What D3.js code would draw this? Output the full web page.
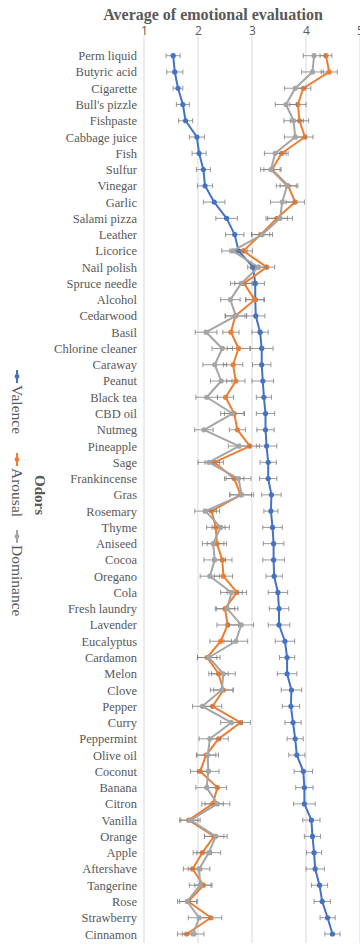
<!DOCTYPE html>
<html>
<head>
<meta charset="utf-8">
<script src="https://cdn.jsdelivr.net/npm/d3@7"></script>
<style>
  html, body { margin: 0; padding: 0; background: #fff; }
  svg { display: block; }
  .serif { font-family: "Liberation Serif", "Times New Roman", Times, serif; }
</style>
</head>
<body>
<div id="chart"></div>
<script>
const odors = ['Perm liquid', 'Butyric acid', 'Cigarette', "Bull's pizzle", 'Fishpaste', 'Cabbage juice', 'Fish',
  'Sulfur', 'Vinegar', 'Garlic', 'Salami pizza', 'Leather', 'Licorice', 'Nail polish', 'Spruce needle', 'Alcohol',
  'Cedarwood', 'Basil', 'Chlorine cleaner', 'Caraway', 'Peanut', 'Black tea', 'CBD oil', 'Nutmeg', 'Pineapple',
  'Sage', 'Frankincense', 'Gras', 'Rosemary', 'Thyme', 'Aniseed', 'Cocoa', 'Oregano', 'Cola', 'Fresh laundry',
  'Lavender', 'Eucalyptus', 'Cardamon', 'Melon', 'Clove', 'Pepper', 'Curry', 'Peppermint', 'Olive oil', 'Coconut',
  'Banana', 'Citron', 'Vanilla', 'Orange', 'Apple', 'Aftershave', 'Tangerine', 'Rose', 'Strawberry', 'Cinnamon'];

const valence = [1.54, 1.57, 1.63, 1.72, 1.77, 1.98, 2.02, 2.10, 2.13, 2.30, 2.53, 2.68, 2.75, 3.02, 3.06, 3.06,
  3.07, 3.15, 3.18, 3.18, 3.20, 3.22, 3.25, 3.25, 3.27, 3.30, 3.30, 3.36, 3.35, 3.38, 3.40, 3.40, 3.41, 3.48, 3.50,
  3.50, 3.61, 3.65, 3.65, 3.73, 3.72, 3.76, 3.80, 3.83, 3.95, 3.97, 3.97, 4.10, 4.12, 4.15, 4.17, 4.25, 4.30, 4.40, 4.49];
const valenceErr = [0.13, 0.15, 0.09, 0.12, 0.13, 0.14, 0.13, 0.13, 0.14, 0.20, 0.20, 0.17, 0.16, 0.10, 0.17, 0.17,
  0.17, 0.15, 0.21, 0.17, 0.20, 0.14, 0.17, 0.16, 0.19, 0.15, 0.16, 0.18, 0.13, 0.18, 0.19, 0.20, 0.15, 0.18, 0.18,
  0.20, 0.18, 0.14, 0.18, 0.19, 0.16, 0.15, 0.15, 0.15, 0.17, 0.16, 0.20, 0.16, 0.15, 0.14, 0.17, 0.15, 0.15, 0.14, 0.14];

const arousal = [4.37, 4.43, 3.95, 3.85, 3.88, 3.98, 3.55, 3.37, 3.67, 3.80, 3.46, 3.16, 2.84, 3.27, 2.85, 3.05,
  2.69, 2.61, 2.75, 2.65, 2.70, 2.51, 2.67, 2.73, 2.96, 2.30, 2.67, 2.79, 2.25, 2.33, 2.35, 2.45, 2.47, 2.72, 2.50,
  2.55, 2.42, 2.17, 2.38, 2.47, 2.27, 2.79, 2.38, 2.15, 2.04, 2.36, 2.27, 1.83, 2.30, 2.08, 1.90, 2.10, 1.82, 2.24, 1.79];
const arousalErr = [0.11, 0.15, 0.14, 0.15, 0.17, 0.15, 0.12, 0.15, 0.15, 0.17, 0.20, 0.17, 0.17, 0.15, 0.17, 0.17,
  0.18, 0.15, 0.21, 0.18, 0.17, 0.15, 0.18, 0.15, 0.18, 0.17, 0.18, 0.20, 0.15, 0.17, 0.18, 0.18, 0.17, 0.18, 0.18,
  0.20, 0.20, 0.18, 0.18, 0.18, 0.17, 0.18, 0.18, 0.18, 0.18, 0.17, 0.20, 0.17, 0.18, 0.17, 0.17, 0.16, 0.16, 0.20, 0.17];

const dominance = [4.15, 4.12, 3.80, 3.63, 3.77, 3.80, 3.43, 3.35, 3.65, 3.56, 3.52, 3.19, 2.64, 3.12, 2.80, 2.60,
  2.70, 2.15, 2.45, 2.31, 2.43, 2.16, 2.64, 2.11, 2.76, 2.20, 2.75, 2.81, 2.14, 2.42, 2.28, 2.31, 2.22, 2.62, 2.54,
  2.80, 2.70, 2.20, 2.47, 2.44, 2.08, 2.62, 2.22, 2.18, 2.19, 2.16, 2.36, 1.86, 2.33, 2.20, 2.02, 2.04, 1.80, 2.02, 1.91];
const dominanceErr = [0.20, 0.20, 0.20, 0.20, 0.18, 0.20, 0.20, 0.19, 0.20, 0.22, 0.23, 0.19, 0.20, 0.15, 0.20, 0.18,
  0.20, 0.20, 0.19, 0.22, 0.20, 0.20, 0.22, 0.17, 0.20, 0.20, 0.23, 0.22, 0.20, 0.16, 0.20, 0.20, 0.18, 0.20, 0.20,
  0.23, 0.22, 0.21, 0.22, 0.21, 0.18, 0.20, 0.20, 0.20, 0.20, 0.20, 0.23, 0.18, 0.21, 0.22, 0.20, 0.20, 0.18, 0.20, 0.20];

const xTicks = [1, 2, 3, 4, 5];

const series = [
  { name: 'Valence', values: valence, errors: valenceErr, color: '#4472C4' },
  { name: 'Arousal', values: arousal, errors: arousalErr, color: '#ED7D31' },
  { name: 'Dominance', values: dominance, errors: dominanceErr, color: '#A5A5A5' }
];

const width = 360, height = 947;
const plot = { left: 144, right: 360, top: 36, bottom: 943 };
const textColor = '#595959';

const svg = d3.select('#chart').append('svg')
  .attr('width', width)
  .attr('height', height);

const x = d3.scaleLinear()
  .domain([1, 5])
  .range([plot.left, plot.right]);

const y = d3.scalePoint()
  .domain(odors)
  .range([55.7, 934]);

// vertical gridlines
svg.append('g')
  .selectAll('line')
  .data(xTicks)
  .enter().append('line')
  .attr('x1', d => x(d)).attr('x2', d => x(d))
  .attr('y1', plot.top).attr('y2', plot.bottom)
  .attr('stroke', '#d9d9d9')
  .attr('stroke-width', 1);

// top axis labels
const xAxis = d3.axisTop(x).tickValues(xTicks).tickSize(0).tickPadding(0).tickFormat(d3.format('d'));
const gx = svg.append('g')
  .attr('transform', `translate(0,${plot.top - 1})`)
  .call(xAxis);
gx.select('.domain').remove();
gx.attr('font-family', null).attr('font-size', null);
gx.selectAll('text')
  .style('font-family', '"Open Sans", "Liberation Sans", sans-serif')
  .style('font-size', '12px')
  .attr('fill', textColor);

// category labels
const yAxis = d3.axisLeft(y).tickSize(0).tickPadding(0);
const gy = svg.append('g')
  .attr('transform', 'translate(137,0)')
  .call(yAxis);
gy.select('.domain').remove();
gy.attr('font-family', null).attr('font-size', null);
gy.selectAll('text')
  .attr('class', 'serif')
  .style('font-size', '12.5px')
  .attr('fill', textColor);

// title
svg.append('text')
  .attr('class', 'serif')
  .attr('x', 213)
  .attr('y', 20)
  .attr('text-anchor', 'middle')
  .style('font-weight', 'bold')
  .style('font-size', '16px')
  .attr('fill', textColor)
  .text('Average of emotional evaluation');

const line = d3.line()
  .x(d => x(d.v))
  .y(d => y(d.name));

series.forEach(s => {
  const pts = odors.map((name, i) => ({ name, v: s.values[i], e: s.errors[i] }));
  const g = svg.append('g');

  g.append('path')
    .datum(pts)
    .attr('d', line)
    .attr('fill', 'none')
    .attr('stroke', s.color)
    .attr('stroke-width', 2)
    .attr('stroke-linejoin', 'round');

  // error bars
  const eb = g.selectAll('g.err')
    .data(pts)
    .enter().append('g')
    .attr('class', 'err')
    .attr('stroke', '#7f7f7f')
    .attr('stroke-width', 0.8);
  eb.append('line')
    .attr('x1', d => x(d.v - d.e)).attr('x2', d => x(d.v + d.e))
    .attr('y1', d => y(d.name)).attr('y2', d => y(d.name));
  eb.append('line')
    .attr('x1', d => x(d.v - d.e)).attr('x2', d => x(d.v - d.e))
    .attr('y1', d => y(d.name) - 2.5).attr('y2', d => y(d.name) + 2.5);
  eb.append('line')
    .attr('x1', d => x(d.v + d.e)).attr('x2', d => x(d.v + d.e))
    .attr('y1', d => y(d.name) - 2.5).attr('y2', d => y(d.name) + 2.5);

  g.selectAll('circle')
    .data(pts)
    .enter().append('circle')
    .attr('cx', d => x(d.v))
    .attr('cy', d => y(d.name))
    .attr('r', 2.6)
    .attr('fill', s.color);
});

// legend (rotated, reading top to bottom)
const legendStarts = [370, 453, 530];
series.forEach((s, i) => {
  const lg = svg.append('g')
    .attr('transform', `translate(17,${legendStarts[i]}) rotate(90)`);
  lg.append('line')
    .attr('x1', 0).attr('x2', 13)
    .attr('y1', 0).attr('y2', 0)
    .attr('stroke', s.color).attr('stroke-width', 2);
  lg.append('circle')
    .attr('cx', 6.5).attr('cy', 0).attr('r', 2.4)
    .attr('fill', s.color);
  lg.append('text')
    .attr('class', 'serif')
    .attr('x', 15).attr('y', 0)
    .attr('dy', '0.35em')
    .style('font-size', '15.5px')
    .attr('fill', textColor)
    .text(s.name);
});

svg.append('text')
  .attr('class', 'serif')
  .attr('transform', 'translate(40,495) rotate(90)')
  .attr('text-anchor', 'middle')
  .attr('dy', '0.35em')
  .style('font-weight', 'bold')
  .style('font-size', '15px')
  .attr('fill', textColor)
  .text('Odors');
</script>
</body>
</html>
